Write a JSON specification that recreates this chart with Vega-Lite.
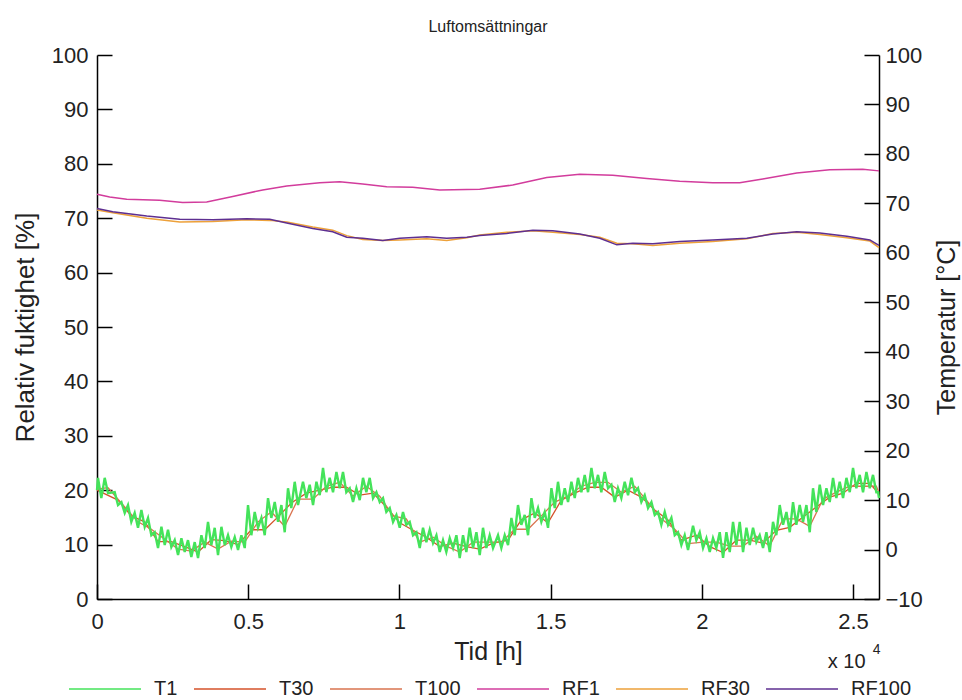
{
"$schema":"https://vega.github.io/schema/vega-lite/v6.json",
"width":782,"height":544,
"autosize":{"type":"none"},
"padding":{"left":97,"top":55,"right":83,"bottom":101},
"background":"white",
"config":{"view":{"stroke":null},"font":"Liberation Sans"},
"title":{"text":"Luftomsättningar","fontSize":16,"fontWeight":"normal","font":"Liberation Sans","color":"#222","offset":9,"anchor":"middle"},
"datasets":{
"T1":[
{"t":0,"v":12.0},{"t":33,"v":14.5},{"t":143,"v":10.4},{"t":255,"v":14.5},{"t":365,"v":11.4},{"t":585,"v":11.6},{"t":695,"v":9.0},{"t":807,"v":9.6},{"t":917,"v":7.4},{"t":1025,"v":9.0},{"t":1135,"v":5.6},{"t":1246,"v":7.4},{"t":1356,"v":4.4},{"t":1468,"v":8.0},{"t":1578,"v":4.6},{"t":1687,"v":6.4},{"t":1797,"v":2.9},{"t":1908,"v":3.5},{"t":2018,"v":0.3},{"t":2130,"v":4.6},{"t":2240,"v":0.9},{"t":2348,"v":4.0},{"t":2458,"v":0.5},{"t":2570,"v":1.9},{"t":2680,"v":-1.1},{"t":2791,"v":2.3},{"t":2901,"v":-0.5},{"t":3009,"v":1.9},{"t":3119,"v":-1.5},{"t":3231,"v":1.5},{"t":3341,"v":-1.7},{"t":3452,"v":2.9},{"t":3562,"v":0.3},{"t":3671,"v":5.6},{"t":3781,"v":0.9},{"t":3892,"v":4.4},{"t":4002,"v":-1.1},{"t":4114,"v":4.6},{"t":4224,"v":0.9},{"t":4332,"v":2.9},{"t":4442,"v":0.5},{"t":4554,"v":2.5},{"t":4664,"v":-0.1},{"t":4775,"v":2.9},{"t":4885,"v":0.3},{"t":4994,"v":9.0},{"t":5104,"v":2.9},{"t":5215,"v":7.6},{"t":5325,"v":4.4},{"t":5437,"v":6.4},{"t":5547,"v":2.9},{"t":5655,"v":10.4},{"t":5765,"v":6.4},{"t":5877,"v":9.6},{"t":5987,"v":5.6},{"t":6098,"v":9.0},{"t":6208,"v":3.5},{"t":6316,"v":12.4},{"t":6426,"v":8.4},{"t":6538,"v":13.7},{"t":6648,"v":9.0},{"t":6812,"v":13.7},{"t":6922,"v":10.4},{"t":7034,"v":13.1},{"t":7144,"v":9.0},{"t":7256,"v":13.7},{"t":7366,"v":11.0},{"t":7474,"v":16.5},{"t":7584,"v":11.6},{"t":7695,"v":14.5},{"t":7805,"v":11.6},{"t":7917,"v":15.7},{"t":8027,"v":12.4},{"t":8135,"v":15.7},{"t":8245,"v":11.6},{"t":8357,"v":12.4},{"t":8467,"v":9.6},{"t":8578,"v":12.4},{"t":8688,"v":10.0},{"t":8797,"v":14.5},{"t":8907,"v":11.6},{"t":9018,"v":14.5},{"t":9128,"v":10.4},{"t":9240,"v":11.6},{"t":9350,"v":9.6},{"t":9458,"v":10.4},{"t":9568,"v":7.6},{"t":9680,"v":8.4},{"t":9790,"v":5.6},{"t":9901,"v":7.0},{"t":10011,"v":4.4},{"t":10119,"v":7.6},{"t":10229,"v":5.0},{"t":10341,"v":5.6},{"t":10451,"v":2.9},{"t":10563,"v":3.5},{"t":10673,"v":0.3},{"t":10781,"v":4.4},{"t":10891,"v":1.5},{"t":11002,"v":4.0},{"t":11112,"v":1.3},{"t":11224,"v":2.9},{"t":11334,"v":-0.5},{"t":11442,"v":1.9},{"t":11552,"v":-0.5},{"t":11664,"v":2.3},{"t":11774,"v":0.3},{"t":11885,"v":2.9},{"t":11995,"v":-1.7},{"t":12104,"v":2.9},{"t":12214,"v":-0.5},{"t":12325,"v":4.4},{"t":12435,"v":0.3},{"t":12547,"v":3.5},{"t":12657,"v":-1.1},{"t":12765,"v":4.4},{"t":12875,"v":0.3},{"t":12986,"v":2.9},{"t":13096,"v":0.3},{"t":13261,"v":2.9},{"t":13371,"v":0.3},{"t":13483,"v":2.9},{"t":13593,"v":0.9},{"t":13704,"v":6.4},{"t":13814,"v":2.9},{"t":13922,"v":9.0},{"t":14032,"v":5.0},{"t":14144,"v":7.0},{"t":14254,"v":2.9},{"t":14366,"v":10.4},{"t":14476,"v":6.4},{"t":14584,"v":8.4},{"t":14694,"v":5.6},{"t":14805,"v":7.6},{"t":14915,"v":4.4},{"t":15027,"v":12.4},{"t":15137,"v":8.4},{"t":15245,"v":13.7},{"t":15355,"v":9.0},{"t":15467,"v":12.4},{"t":15577,"v":9.6},{"t":15688,"v":13.7},{"t":15798,"v":10.4},{"t":15907,"v":14.5},{"t":16017,"v":11.6},{"t":16128,"v":15.1},{"t":16238,"v":11.6},{"t":16350,"v":16.5},{"t":16460,"v":12.4},{"t":16568,"v":15.1},{"t":16678,"v":11.6},{"t":16790,"v":15.7},{"t":16900,"v":12.4},{"t":17011,"v":13.1},{"t":17121,"v":9.6},{"t":17229,"v":12.4},{"t":17339,"v":10.4},{"t":17451,"v":13.7},{"t":17561,"v":11.0},{"t":17673,"v":14.5},{"t":17783,"v":11.6},{"t":17891,"v":12.4},{"t":18001,"v":9.6},{"t":18112,"v":11.0},{"t":18222,"v":8.4},{"t":18334,"v":9.6},{"t":18444,"v":7.0},{"t":18552,"v":7.6},{"t":18662,"v":5.0},{"t":18774,"v":7.6},{"t":18884,"v":5.0},{"t":18995,"v":6.4},{"t":19105,"v":2.9},{"t":19214,"v":3.5},{"t":19324,"v":0.9},{"t":19435,"v":2.9},{"t":19545,"v":-0.1},{"t":19710,"v":4.8},{"t":19820,"v":1.9},{"t":19931,"v":3.5},{"t":20041,"v":0.3},{"t":20153,"v":2.3},{"t":20263,"v":-0.5},{"t":20371,"v":2.3},{"t":20481,"v":0.3},{"t":20593,"v":3.5},{"t":20703,"v":-1.7},{"t":20814,"v":3.5},{"t":20924,"v":-0.5},{"t":21033,"v":5.6},{"t":21143,"v":0.9},{"t":21254,"v":5.6},{"t":21364,"v":-0.5},{"t":21476,"v":4.4},{"t":21586,"v":0.9},{"t":21694,"v":4.4},{"t":21804,"v":1.5},{"t":21915,"v":2.9},{"t":22025,"v":0.3},{"t":22137,"v":3.5},{"t":22247,"v":-0.5},{"t":22355,"v":5.6},{"t":22465,"v":2.9},{"t":22577,"v":9.0},{"t":22687,"v":5.0},{"t":22799,"v":7.6},{"t":22909,"v":3.5},{"t":23017,"v":9.6},{"t":23127,"v":5.0},{"t":23238,"v":9.0},{"t":23348,"v":5.6},{"t":23460,"v":9.0},{"t":23570,"v":3.5},{"t":23678,"v":12.4},{"t":23788,"v":7.6},{"t":23900,"v":13.1},{"t":24010,"v":9.0},{"t":24121,"v":12.4},{"t":24231,"v":9.6},{"t":24340,"v":14.5},{"t":24450,"v":10.4},{"t":24561,"v":13.7},{"t":24671,"v":10.4},{"t":24783,"v":14.5},{"t":24893,"v":11.6},{"t":25001,"v":16.5},{"t":25111,"v":12.4},{"t":25222,"v":15.1},{"t":25332,"v":11.6},{"t":25444,"v":15.7},{"t":25554,"v":12.4},{"t":25662,"v":15.1},{"t":25772,"v":11.6},{"t":25828,"v":11.6},{"t":25860,"v":10.4}
],
"T30":[
{"t":0,"v":12.0},{"t":695,"v":10.0},{"t":1135,"v":6.8},{"t":1578,"v":5.6},{"t":2018,"v":1.6},{"t":2458,"v":1.6},{"t":2901,"v":0.6},{"t":3341,"v":-0.5},{"t":3781,"v":2.0},{"t":4224,"v":1.8},{"t":4664,"v":1.0},{"t":5104,"v":4.0},{"t":5547,"v":4.0},{"t":5987,"v":6.6},{"t":6426,"v":9.4},{"t":6922,"v":11.4},{"t":7366,"v":12.0},{"t":7805,"v":12.6},{"t":8245,"v":12.6},{"t":8688,"v":11.0},{"t":9128,"v":11.4},{"t":9568,"v":8.6},{"t":10011,"v":5.4},{"t":10451,"v":3.9},{"t":10891,"v":2.5},{"t":11334,"v":0.6},{"t":11774,"v":1.3},{"t":12214,"v":0.6},{"t":12657,"v":0.1},{"t":13096,"v":1.3},{"t":13593,"v":1.9},{"t":14032,"v":6.0},{"t":14476,"v":7.4},{"t":14915,"v":5.4},{"t":15355,"v":10.0},{"t":15798,"v":11.4},{"t":16238,"v":12.6},{"t":16678,"v":12.6},{"t":17121,"v":10.6},{"t":17561,"v":12.0},{"t":18001,"v":10.6},{"t":18444,"v":8.0},{"t":18884,"v":6.0},{"t":19324,"v":1.9},{"t":19820,"v":2.9},{"t":20263,"v":0.6},{"t":20703,"v":-0.6},{"t":21143,"v":1.9},{"t":21586,"v":1.9},{"t":22025,"v":1.3},{"t":22465,"v":3.9},{"t":22909,"v":4.5},{"t":23348,"v":6.6},{"t":23788,"v":8.6},{"t":24231,"v":10.6},{"t":24671,"v":11.4},{"t":25111,"v":13.4},{"t":25554,"v":13.4},{"t":25860,"v":11.2}
],
"T100":[
{"t":0,"v":12.2},{"t":365,"v":12.5},{"t":917,"v":8.6},{"t":1356,"v":5.6},{"t":1797,"v":4.1},{"t":2240,"v":2.1},{"t":2680,"v":0.1},{"t":3119,"v":-0.3},{"t":3562,"v":1.5},{"t":4002,"v":0.1},{"t":4442,"v":1.7},{"t":4885,"v":1.5},{"t":5325,"v":5.6},{"t":5765,"v":7.6},{"t":6208,"v":4.7},{"t":6648,"v":10.2},{"t":7144,"v":10.2},{"t":7584,"v":12.8},{"t":8027,"v":13.6},{"t":8467,"v":10.8},{"t":8907,"v":12.8},{"t":9350,"v":10.8},{"t":9790,"v":6.8},{"t":10229,"v":6.2},{"t":10673,"v":1.5},{"t":11112,"v":2.5},{"t":11552,"v":0.7},{"t":11995,"v":-0.5},{"t":12435,"v":1.5},{"t":12875,"v":1.5},{"t":13371,"v":1.5},{"t":13814,"v":4.1},{"t":14254,"v":4.1},{"t":14694,"v":6.8},{"t":15137,"v":9.6},{"t":15577,"v":10.8},{"t":16017,"v":12.8},{"t":16460,"v":13.6},{"t":16900,"v":13.6},{"t":17339,"v":11.6},{"t":17783,"v":12.8},{"t":18222,"v":9.6},{"t":18662,"v":6.2},{"t":19105,"v":4.1},{"t":19545,"v":1.2},{"t":20041,"v":1.5},{"t":20481,"v":1.5},{"t":20924,"v":0.7},{"t":21364,"v":0.7},{"t":21804,"v":2.7},{"t":22247,"v":0.7},{"t":22687,"v":6.2},{"t":23127,"v":6.2},{"t":23570,"v":4.7},{"t":24010,"v":10.2},{"t":24450,"v":11.6},{"t":24893,"v":12.8},{"t":25332,"v":12.8},{"t":25772,"v":12.8},{"t":25860,"v":11.5}
],
"RF1":[
{"t":0,"v":74.4},{"t":420,"v":73.9},{"t":982,"v":73.5},{"t":2073,"v":73.3},{"t":2834,"v":72.9},{"t":3628,"v":73.0},{"t":4488,"v":74.0},{"t":5480,"v":75.2},{"t":6274,"v":75.9},{"t":7365,"v":76.5},{"t":8027,"v":76.7},{"t":8787,"v":76.3},{"t":9581,"v":75.8},{"t":10441,"v":75.7},{"t":11334,"v":75.2},{"t":12657,"v":75.3},{"t":13748,"v":76.1},{"t":14872,"v":77.5},{"t":15964,"v":78.1},{"t":17055,"v":77.9},{"t":18179,"v":77.3},{"t":19270,"v":76.8},{"t":20362,"v":76.5},{"t":21255,"v":76.5},{"t":22015,"v":77.2},{"t":23140,"v":78.3},{"t":24231,"v":78.9},{"t":25322,"v":79.0},{"t":25860,"v":78.7}
],
"RF30":[
{"t":0,"v":71.5},{"t":520,"v":71.0},{"t":1645,"v":70.0},{"t":2737,"v":69.3},{"t":3828,"v":69.4},{"t":4952,"v":69.7},{"t":5712,"v":69.6},{"t":6274,"v":69.3},{"t":7134,"v":68.4},{"t":7796,"v":67.8},{"t":8259,"v":66.8},{"t":8788,"v":66.1},{"t":9450,"v":65.9},{"t":10012,"v":66.0},{"t":10905,"v":66.2},{"t":11566,"v":65.9},{"t":12228,"v":66.4},{"t":12658,"v":66.9},{"t":13551,"v":67.4},{"t":14411,"v":67.7},{"t":15072,"v":67.4},{"t":15965,"v":67.0},{"t":16627,"v":66.5},{"t":17189,"v":65.4},{"t":17718,"v":65.3},{"t":18380,"v":65.0},{"t":19273,"v":65.4},{"t":20364,"v":65.7},{"t":21489,"v":66.2},{"t":22348,"v":67.2},{"t":23142,"v":67.4},{"t":23903,"v":67.0},{"t":24796,"v":66.4},{"t":25557,"v":65.8},{"t":25860,"v":64.6}
],
"RF100":[
{"t":0,"v":71.8},{"t":520,"v":71.2},{"t":1645,"v":70.4},{"t":2737,"v":69.8},{"t":3828,"v":69.7},{"t":4952,"v":69.9},{"t":5712,"v":69.8},{"t":6274,"v":69.1},{"t":7134,"v":68.1},{"t":7796,"v":67.5},{"t":8259,"v":66.5},{"t":8788,"v":66.3},{"t":9450,"v":65.9},{"t":10012,"v":66.3},{"t":10905,"v":66.6},{"t":11566,"v":66.3},{"t":12228,"v":66.5},{"t":12658,"v":66.8},{"t":13551,"v":67.2},{"t":14411,"v":67.8},{"t":15072,"v":67.7},{"t":15965,"v":67.1},{"t":16627,"v":66.3},{"t":17189,"v":65.1},{"t":17718,"v":65.4},{"t":18380,"v":65.3},{"t":19273,"v":65.7},{"t":20364,"v":66.0},{"t":21489,"v":66.3},{"t":22348,"v":67.1},{"t":23142,"v":67.5},{"t":23903,"v":67.3},{"t":24796,"v":66.7},{"t":25557,"v":66.0},{"t":25860,"v":65.0}
],
"note":[{"t":24164,"v":-22.7,"txt":"x 10"},{"t":25650,"v":-20.3,"txt":"4"}]
},
"encoding":{
"x":{"field":"t","type":"quantitative","scale":{"domain":[0,25860],"nice":false,"zero":false},
"axis":{"values":[0,5000,10000,15000,20000,25000],"labelExpr":"datum.value/10000","grid":false,"tickSize":-15,"tickWidth":1.5,"tickColor":"#000","domainColor":"#000","domainWidth":1.5,"labelFont":"Liberation Sans","labelFontSize":22,"labelColor":"#222","labelPadding":27,"labelFlush":false,"title":"Tid [h]","titleFont":"Liberation Sans","titleFontSize":25,"titleFontWeight":"normal","titleColor":"#222","titlePadding":7}}
},
"layer":[
{
"layer":[
{"data":{"name":"RF1"},"transform":[{"calculate":"'RF1'","as":"s"}],"mark":{"type":"line","strokeWidth":1.5}},
{"data":{"name":"RF30"},"transform":[{"calculate":"'RF30'","as":"s"}],"mark":{"type":"line","strokeWidth":1.5}},
{"data":{"name":"RF100"},"transform":[{"calculate":"'RF100'","as":"s"}],"mark":{"type":"line","strokeWidth":1.5}}
],
"encoding":{
"y":{"field":"v","type":"quantitative","scale":{"domain":[0,100],"nice":false,"zero":false},
"axis":{"orient":"left","values":[0,10,20,30,40,50,60,70,80,90,100],"grid":false,"tickSize":-15,"tickWidth":1.5,"tickColor":"#000","domainColor":"#000","domainWidth":1.5,"labelFont":"Liberation Sans","labelFontSize":22,"labelColor":"#222","labelPadding":24,"labelFlush":false,"title":"Relativ fuktighet [%]","titleFont":"Liberation Sans","titleFontSize":26,"titleFontWeight":"normal","titleColor":"#222","titlePadding":13}},
"color":{"field":"s","type":"nominal","scale":{"domain":["T1","T30","T100","RF1","RF30","RF100"],"range":["#44e35a","#d4522a","#d9734f","#d23c9c","#eda13a","#5e2f91"]},
"legend":{"orient":"none","direction":"horizontal","legendX":-29,"legendY":597,"symbolType":"stroke","symbolSize":5184,"symbolStrokeWidth":1.5,"labelFont":"Liberation Sans","labelFontSize":20,"labelColor":"#222","labelOffset":12,"columnPadding":13,"title":null,"padding":0}}
}
},
{
"layer":[
{"data":{"name":"T30"},"transform":[{"calculate":"'T30'","as":"s"}],"mark":{"type":"line","strokeWidth":1.3},"encoding":{"color":{"field":"s","type":"nominal","scale":{"domain":["T1","T30","T100","RF1","RF30","RF100"],"range":["#44e35a","#d4522a","#d9734f","#d23c9c","#eda13a","#5e2f91"]}}}},
{"data":{"name":"T100"},"transform":[{"calculate":"'T100'","as":"s"}],"mark":{"type":"line","strokeWidth":1.3},"encoding":{"color":{"field":"s","type":"nominal"}}},
{"data":{"name":"T1"},"transform":[{"calculate":"'T1'","as":"s"}],"mark":{"type":"line","strokeWidth":2.4},"encoding":{"color":{"field":"s","type":"nominal"}}},
{"data":{"name":"note"},"transform":[{"filter":"datum.txt == 'x 10'"}],"mark":{"type":"text","align":"left","baseline":"middle","font":"Liberation Sans","fontSize":20,"color":"#222"},"encoding":{"text":{"field":"txt"}}},
{"data":{"name":"note"},"transform":[{"filter":"datum.txt == '4'"}],"mark":{"type":"text","align":"left","baseline":"middle","font":"Liberation Sans","fontSize":14,"color":"#222"},"encoding":{"text":{"field":"txt"}}}
],
"encoding":{
"y":{"field":"v","type":"quantitative","scale":{"domain":[-10,100],"nice":false,"zero":false},
"axis":{"orient":"right","values":[-10,0,10,20,30,40,50,60,70,80,90,100],"grid":false,"tickSize":-15,"tickWidth":1.5,"tickColor":"#000","domainColor":"#000","domainWidth":1.5,"labelFont":"Liberation Sans","labelFontSize":22,"labelColor":"#222","labelPadding":21,"labelFlush":false,"title":"Temperatur [°C]","titleAngle":270,"titleBaseline":"top","titleFont":"Liberation Sans","titleFontSize":25,"titleFontWeight":"normal","titleColor":"#222","titlePadding":12}}
}
}
],
"resolve":{"scale":{"y":"independent"}}
}
